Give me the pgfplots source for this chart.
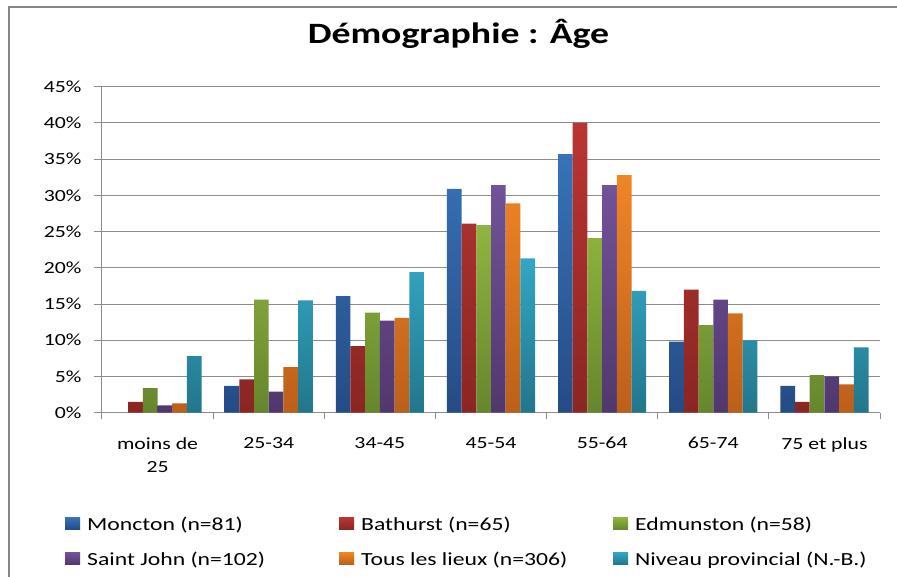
\documentclass[border=0pt]{standalone}
\usepackage{fontspec}
\setmainfont{Carlito}[FakeStretch=1.28]
\usepackage{pgfplots}
\pgfplotsset{compat=1.18}
\definecolor{frame}{HTML}{858585}
\definecolor{axgray}{HTML}{8C8C8C}
\definecolor{blueT}{HTML}{3872BA}\definecolor{blueB}{HTML}{244C85}
\definecolor{redT}{HTML}{BA3532}\definecolor{redB}{HTML}{8A2623}
\definecolor{greenT}{HTML}{8FB440}\definecolor{greenB}{HTML}{66862D}
\definecolor{purpT}{HTML}{72529A}\definecolor{purpB}{HTML}{50386E}
\definecolor{orT}{HTML}{F08526}\definecolor{orB}{HTML}{BC5F19}
\definecolor{tealT}{HTML}{33A6C4}\definecolor{tealB}{HTML}{22768B}
\begin{document}
\begin{tikzpicture}
\useasboundingbox (0pt,0pt) rectangle (897pt,577pt);
\draw[color=frame, line width=2pt] (9pt,0pt) -- (9pt,569.5pt) -- (897pt,569.5pt);
\node[anchor=base, font=\fontsize{29.5}{34}\selectfont\bfseries] at (458.5pt,533pt) {Démographie : Âge};
\begin{axis}[
  at={(102pt,164.3pt)}, anchor=south west,
  scale only axis, width=778pt, height=326pt,
  xmin=-0.5, xmax=6.5, ymin=0, ymax=45,
  enlargelimits=false,
  ybar=0pt, bar width=14.7pt,
  axis lines*=left,
  axis line style={color=axgray, line width=1pt},
  tick style={color=axgray, line width=1pt},
  tick align=outside,
  major tick length=8pt, minor tick length=6pt,
  xtick={0,...,6},
  xticklabels={{moins de\\25},{25-34},{34-45},{45-54},{55-64},{65-74},{75 et plus}},
  minor xtick={-0.5,0.5,...,6.5},
  major x tick style={draw=none},
  xticklabel style={align=center, font=\fontsize{17}{23.3}\selectfont, yshift=-13pt},
  ytick={0,5,...,45},
  yticklabels={0\%,5\%,10\%,15\%,20\%,25\%,30\%,35\%,40\%,45\%},
  yticklabel style={font=\fontsize{17}{20}\selectfont, xshift=-9pt},
  ymajorgrids,
  grid style={color=axgray, line width=1pt},
  legend columns=3,
  legend style={draw=none, fill=none, at={(axis description cs:0,0)}, anchor=north west,
    xshift=-37pt, yshift=-102pt, font=\fontsize{18.5}{22}\selectfont,
    row sep=16pt, cells={anchor=west}, inner sep=0pt,
    /tikz/every even column/.append style={column sep=0pt}},
  legend image code/.code={\fill[#1] (0pt,-5pt) rectangle (15pt,7pt);},
]
\addplot[draw=none, top color=blueT, bottom color=blueB] coordinates {(1,3.7) (2,16.1) (3,30.9) (4,35.7) (5,9.8) (6,3.7)};
\addlegendentry{\hspace{5pt}\makebox[250pt][l]{Moncton (n=81)}}
\addplot[draw=none, top color=redT, bottom color=redB] coordinates {(0,1.5) (1,4.6) (2,9.2) (3,26.1) (4,40.0) (5,17.0) (6,1.5)};
\addlegendentry{\hspace{5pt}\makebox[250pt][l]{Bathurst (n=65)}}
\addplot[draw=none, top color=greenT, bottom color=greenB] coordinates {(0,3.4) (1,15.6) (2,13.8) (3,25.9) (4,24.1) (5,12.1) (6,5.2)};
\addlegendentry{\hspace{5pt}\makebox[240pt][l]{Edmunston (n=58)}}
\addplot[draw=none, top color=purpT, bottom color=purpB] coordinates {(0,1.0) (1,2.9) (2,12.7) (3,31.4) (4,31.4) (5,15.6) (6,5.0)};
\addlegendentry{\hspace{5pt}\makebox[250pt][l]{Saint John (n=102)}}
\addplot[draw=none, top color=orT, bottom color=orB] coordinates {(0,1.3) (1,6.3) (2,13.1) (3,28.9) (4,32.8) (5,13.7) (6,3.9)};
\addlegendentry{\hspace{5pt}\makebox[250pt][l]{Tous les lieux (n=306)}}
\addplot[draw=none, top color=tealT, bottom color=tealB] coordinates {(0,7.8) (1,15.5) (2,19.4) (3,21.3) (4,16.8) (5,10.0) (6,9.0)};
\addlegendentry{\hspace{5pt}\makebox[240pt][l]{Niveau provincial (N.-B.)}}
\end{axis}
\end{tikzpicture}
\end{document}
